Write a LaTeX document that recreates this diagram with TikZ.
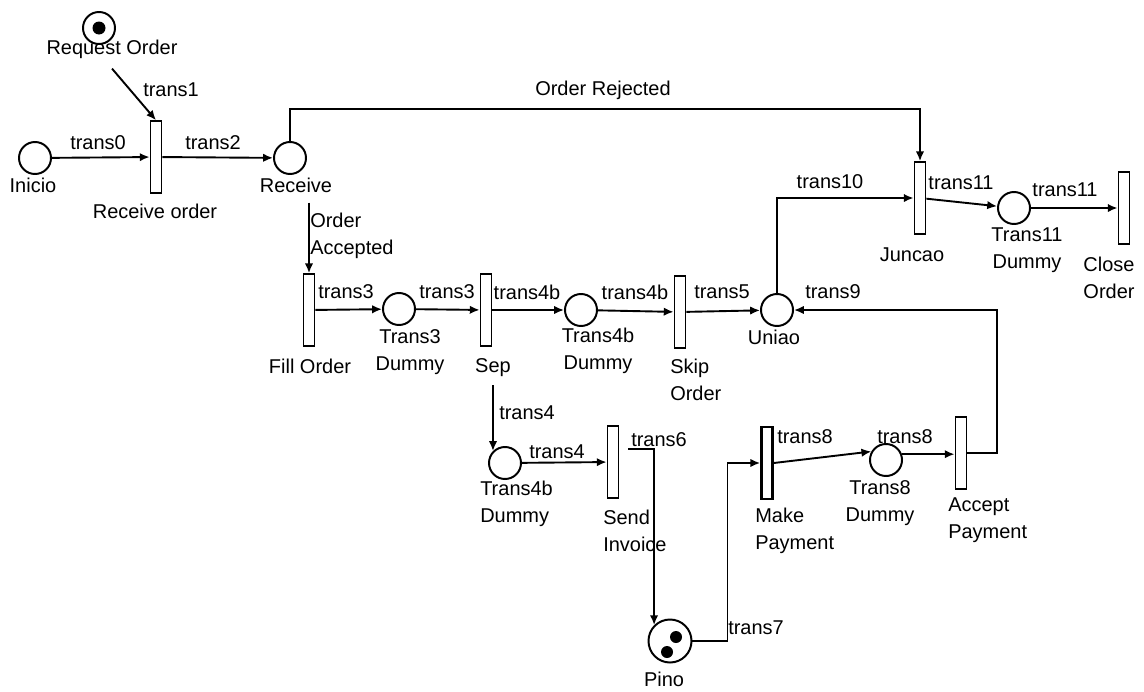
\documentclass[tikz,border=0pt]{standalone}
\usepackage{fontspec}
\setmainfont{Liberation Sans}
\usetikzlibrary{arrows.meta}
\begin{document}
\begin{tikzpicture}[x=0.025cm, y=-0.025cm,
    every node/.style={font=\fontsize{14.2}{19.1}\selectfont, inner sep=0pt},
    place/.style={circle, draw, line width=1.4pt, minimum size=0.8cm},
    trans/.style={rectangle, draw, line width=1.1pt, minimum width=0.28cm, minimum height=1.8cm},
    arc/.style={-{Latex[length=7pt,width=6pt]}, line width=1.35pt}]
    \useasboundingbox (0,0) rectangle (1144,691);
    % places
    \node[place] (reqord) at (99,28) {};
    \node[place] (inicio) at (35,158) {};
    \node[place] (rcv) at (290,158) {};
    \node[place] (t3d) at (399,309) {};
    \node[place] (t4bd) at (581,310) {};
    \node[place] (uniao) at (777,310) {};
    \node[place] (t11d) at (1014,208) {};
    \node[place] (t4bd2) at (505,463) {};
    \node[place, minimum size=1.075cm] (pino) at (670,641) {};
    \node[place] (t8d) at (886,460) {};
    \fill (reqord.center) circle[radius=6.5];
    \fill (676,637) circle[radius=6] (667,652) circle[radius=6];
    % transitions
    \node[trans] (rcvord) at (156,157) {};
    \node[trans] (fill) at (309,310) {};
    \node[trans] (sep) at (486,310) {};
    \node[trans] (skip) at (680,312) {};
    \node[trans] (juncao) at (920,198) {};
    \node[trans] (close) at (1124,208) {};
    \node[trans] (sendinv) at (613,462) {};
    \node[trans, line width=1.7pt] (mkpay) at (767,463) {};
    \node[trans] (accpay) at (961,453) {};
    % node labels
    \node (lreq) at (112,49) {Request Order};
    \node (lini) at (33,185) {Inicio};
    \node (lrcvord) at (155,211) {Receive order};
    \node (lrcv) at (296,185) {Receive};
    \node (lfill) at (310,366) {Fill Order};
    \node[align=center] (lt3d) at (410,352) {Trans3\\Dummy};
    \node (lsep) at (493,368) {Sep};
    \node[align=center] (lt4bd) at (598,351) {Trans4b\\Dummy};
    \node[align=left, anchor=west] (lskip) at (670,380) {Skip\\Order};
    \node (luniao) at (774,337) {Uniao};
    \node (ljunc) at (912,255) {Juncao};
    \node[align=center] (lt11d) at (1027,250) {Trans11\\Dummy};
    \node[align=center] (lclose) at (1109,278) {Close\\Order};
    \node[align=left, anchor=west] (lt4bd2) at (480,504) {Trans4b\\Dummy};
    \node[align=left, anchor=west] (lsend) at (603,531) {Send\\Invoice};
    \node (lpino) at (664,679) {Pino};
    \node[align=left, anchor=west] (lmk) at (755,531) {Make\\Payment};
    \node[align=center] (lt8d) at (880,503) {Trans8\\Dummy};
    \node[align=left, anchor=west] (laccp) at (948,520) {Accept\\Payment};
    % arcs
    \draw[arc] (inicio) -- (rcvord);
    \draw[arc] ([yshift=-0.25cm]lreq.south) -- (rcvord.north);
    \draw[arc] (rcvord) -- (rcv);
    \draw[arc] (rcv.north) -- ++(0,-32) -| (juncao.north);
    \draw[arc] ([yshift=-0.25cm]lrcv.south -| fill.north) -- (fill.north);
    \draw[arc] (fill) -- (t3d);
    \draw[arc] (t3d) -- (sep);
    \draw[arc] (sep) -- (t4bd);
    \draw[arc] (t4bd) -- (skip);
    \draw[arc] (skip) -- (uniao);
    \draw[arc] (uniao.north) |- (juncao.west);
    \draw[arc] (juncao) -- (t11d);
    \draw[arc] (t11d) -- (close);
    \draw[arc] ([yshift=-0.2cm]lsep.south -| t4bd2.north west) -- (t4bd2.north west);
    \draw[arc] (t4bd2) -- (sendinv);
    \draw[arc] ([shift={(9,-13)}]sendinv.east) -| (pino.north west);
    \draw[arc] (pino.east) -- ++(35,0) |- (mkpay.west);
    \draw[arc] (mkpay.east) -- (t8d.150);
    \draw[arc, line width=1.8pt] (t8d.20) -- (accpay.west |- t8d.20);
    \draw[arc] (accpay.east) -- ++(30,0) |- (uniao.east);
    % arc labels
    \node (lt0) at (98,143) {trans0};
    \node (lt1) at (171,90) {trans1};
    \node (lt2) at (213,143) {trans2};
    \node (lrej) at (603,90) {Order Rejected};
    \node[align=left, anchor=west] (lacc) at (310,236) {Order\\Accepted};
    \node (lt3a) at (346,292) {trans3};
    \node (lt3b) at (447,292) {trans3};
    \node (lt4ba) at (527,292) {trans4b};
    \node (lt4bb) at (635,292) {trans4b};
    \node (lt5) at (722,292) {trans5};
    \node (lt9) at (833,292) {trans9};
    \node (lt10) at (830,182) {trans10};
    \node (lt11a) at (961,183) {trans11};
    \node (lt11b) at (1065,190) {trans11};
    \node (lt4a) at (527,413) {trans4};
    \node (lt4b) at (557,452) {trans4};
    \node (lt6) at (659,440) {trans6};
    \node (lt7) at (756,628) {trans7};
    \node (lt8a) at (805,437) {trans8};
    \node (lt8b) at (905,437) {trans8};
\end{tikzpicture}
\end{document}
